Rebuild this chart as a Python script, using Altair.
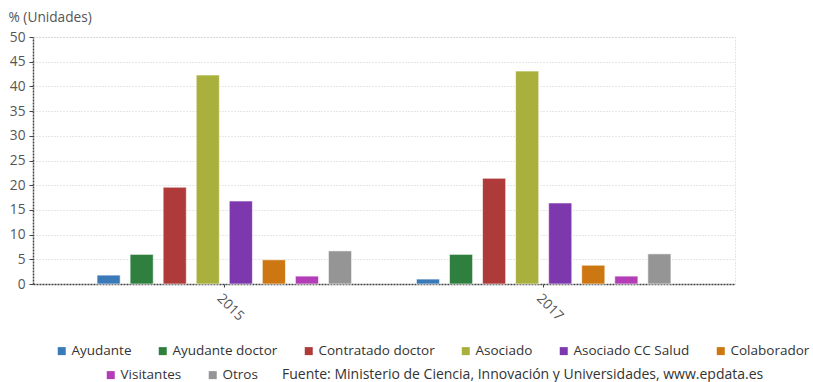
import altair as alt
import pandas as pd

years = ["2015", "2017"]
series = ["Ayudante", "Ayudante doctor", "Contratado doctor", "Asociado",
          "Asociado CC Salud", "Colaborador", "Visitantes", "Otros"]
values_2015 = [1.8, 6.0, 19.6, 42.3, 16.8, 4.9, 1.6, 6.7]
values_2017 = [1.0, 6.0, 21.4, 43.1, 16.4, 3.8, 1.6, 6.1]
colors = ["#3a7ab8", "#2f7f3f", "#ae3a3a", "#a9b03b",
          "#7d38ad", "#cc7711", "#b23db6", "#959595"]
source_text = "Fuente: Ministerio de Ciencia, Innovación y Universidades, www.epdata.es"
y_title = "% (Unidades)"

rows = []
for yr, vals in zip(years, [values_2015, values_2017]):
    for s, v in zip(series, vals):
        rows.append({"year": yr, "series": s, "value": v})
df = pd.DataFrame(rows)

first = series[:6]
second = series[6:]
FS = 13.7
LFS = 13.5

x_enc = alt.X("year:N", title=None, sort=years,
              scale=alt.Scale(paddingInner=0.172, paddingOuter=0.185),
              axis=alt.Axis(labelAngle=45, labelAlign="left", labelBaseline="top",
                            labelPadding=4, labelFontSize=FS, labelColor="#555555",
                            tickSize=3, tickColor="#444444", domainColor="#444444",
                            domainDash=[2, 1], domainWidth=1.5, grid=False))
xo_enc = alt.XOffset("series:N", sort=series,
                     scale=alt.Scale(domain=series, paddingInner=0.3, paddingOuter=0.15))
y_enc = alt.Y("value:Q", scale=alt.Scale(domain=[0, 50], nice=False),
              axis=alt.Axis(values=list(range(0, 55, 5)), title=y_title, titleAngle=0,
                            titleAlign="left", titleX=-25, titleY=-20,
                            titleBaseline="middle", titleFontSize=FS,
                            titleFontWeight="normal", titleColor="#555555",
                            labelFontSize=FS, labelColor="#555555", labelPadding=4,
                            tickSize=4, tickColor="#444444", domainColor="#444444",
                            domainDash=[2, 1], domainWidth=1.5,
                            gridColor="#cccccc", gridDash=[1, 2], gridWidth=1))

base = alt.Chart(df).mark_bar(stroke="white", strokeWidth=1, strokeOpacity=0.6)

common_legend = dict(orient="none", direction="horizontal",
                     symbolType="square", symbolSize=64, symbolStrokeWidth=0,
                     labelFontSize=LFS, labelColor="#333333", labelOffset=3,
                     columnPadding=24, padding=0, labelLimit=300)

l1 = base.transform_filter(alt.FieldOneOfPredicate(field="series", oneOf=first)).encode(
    x=x_enc, xOffset=xo_enc, y=y_enc,
    color=alt.Color("series:N", sort=first,
                    scale=alt.Scale(domain=first, range=colors[:6]),
                    legend=alt.Legend(legendX=22, legendY=307, title=None,
                                      **common_legend)))

l2 = base.transform_filter(alt.FieldOneOfPredicate(field="series", oneOf=second)).encode(
    x=x_enc, xOffset=xo_enc, y=y_enc,
    color=alt.Color("series:N", sort=second,
                    scale=alt.Scale(domain=second, range=colors[6:]),
                    legend=alt.Legend(legendX=71, legendY=331, title=source_text,
                                      titleOrient="right", titlePadding=24,
                                      titleFontSize=14, titleFontWeight="normal",
                                      titleColor="#333333", titleLimit=700,
                                      titleBaseline="middle", titleAnchor="middle",
                                      **common_legend)))

chart = alt.layer(l1, l2).resolve_scale(color="independent").properties(
    width=702, height=247,
    padding={"left": 33, "top": 37, "right": 78, "bottom": 98},
    autosize=alt.AutoSizeParams(type="none"),
).configure(font="Open Sans").configure_view(
    stroke="#cccccc", strokeDash=[1, 2], strokeWidth=1
)

chart.save("out.html", embed_options={"renderer": "svg", "actions": False})
